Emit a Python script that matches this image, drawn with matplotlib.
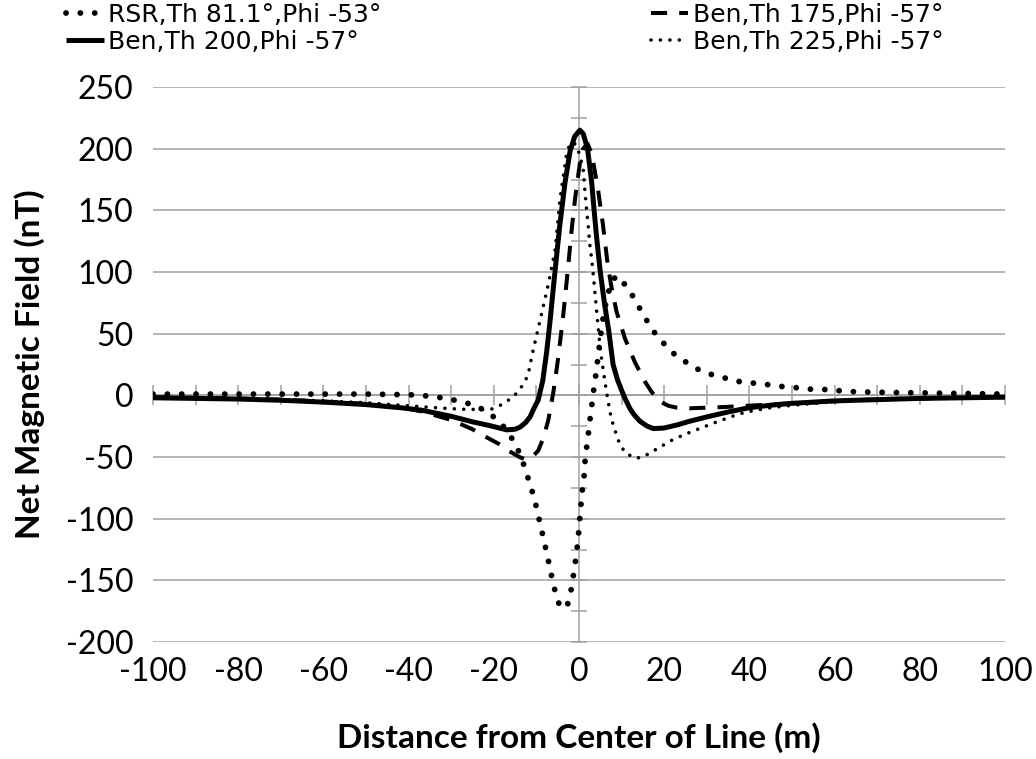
import matplotlib
matplotlib.use('Agg')
import matplotlib.pyplot as plt
from matplotlib.ticker import MultipleLocator

plt.rcParams['font.family'] = ['Lato', 'DejaVu Sans']
plt.rcParams['axes.unicode_minus'] = False

# ---------------- data ----------------
labels = ["RSR,Th 81.1°,Phi -53°", "Ben,Th 175,Phi -57°",
          "Ben,Th 200,Phi -57°", "Ben,Th 225,Phi -57°"]

rsr_x = [-100, -90, -80, -70, -60, -50, -40, -37.3, -34.2, -30.9, -27.7, -24.6, -21.7,
         -19.1, -17, -15.2, -13.8, -12.7, -11.7, -10.7, -9.9, -9.2, -8.4, -7.7, -7,
         -6.4, -5.6, -4.7, -3.7, -2.8, -2, -1.5, -1, -0.6, -0.2, 0.2, 0.5, 0.8, 1.2,
         1.4, 1.8, 2.2, 2.6, 3, 3.4, 4, 4.6, 5.2, 5.8, 6.5, 7.2, 8, 9, 10, 11.2, 12.9,
         14.5, 16.2, 18.1, 20.2, 22.5, 25.1, 28, 31, 34.3, 37.3, 40.7, 43.9, 47.2,
         50.3, 53.7, 57, 60.3, 63.6, 70, 80, 90, 100]
rsr_y = [1, 1, 1, 1, 1, 1, 0.5, 0, -1, -2.7, -5, -8, -13,
         -20, -28, -38, -48, -59, -70, -81, -92, -103, -115, -126, -137,
         -147, -159, -169, -173, -171, -161, -150, -139, -128, -116, -99, -87, -76, -65,
         -54, -42, -31, -19, -8, 3, 18, 35, 52, 66, 78, 87, 94, 97, 93, 88, 79,
         69, 59, 49, 41, 33, 27, 21, 17, 14, 11.3, 10, 8.9, 7.3,
         6.5, 5, 4.9, 4, 3, 2.5, 2, 1.5, 1]

b175_x = [-100, -90, -80, -70, -60, -50, -40, -37, -30, -25, -22.8, -19, -16.5, -14,
          -12.5, -11, -9.6, -8.4, -7.2, -6, -4.9, -3.7, -2.5, -1.7, -0.9, 0.2, 1, 2,
          3, 3.8, 4.5, 5.6, 6.6, 7.5, 8.8, 10.8, 13.1, 15.5, 17, 19, 21, 23, 26, 30,
          34, 42, 50, 57, 64, 72, 80, 90, 100]
b175_y = [-1.5, -2, -2.5, -3.5, -5, -7, -11, -13, -20, -27.5, -32, -39, -45, -50,
          -52, -50, -45, -35, -20, 3, 30, 65, 106, 135, 160, 188, 200, 204,
          196, 180, 166, 139, 110, 90, 68, 46, 27, 11, 3, -5, -8.5, -10, -10.5, -10,
          -9.5, -8, -6.5, -5.4, -4, -3, -2.5, -2, -1.5]

b200_x = [-100, -90, -80, -70, -60, -50, -42, -37, -30, -25, -21, -17, -15, -13.8,
          -12.5, -11.5, -10.5, -9.6, -8.5, -7.6, -6.8, -6, -5.2, -4.5, -3.3, -2.1, -1,
          0.2, 1, 2, 3, 3.5, 4, 4.5, 5, 6, 7, 8, 9, 10, 11, 12, 13, 14.3, 16, 17.5, 20,
          23, 26, 30, 35, 40, 45, 50, 60, 70, 80, 90, 100]
b200_y = [-2, -2.5, -3, -4, -5.5, -7.5, -10, -12, -17, -21.5, -24.5, -28, -27.5, -25.7,
          -22, -17.5, -10, -4, 12, 35, 60, 88, 115, 138, 172, 198, 210,
          215, 212, 200, 172, 152, 133, 116, 100, 74, 52, 25, 13, 4, -4, -11, -16, -21,
          -25, -27, -26.5, -24, -21, -17.5, -13.5, -10, -8, -6.5, -4.5, -3.5, -2.5, -2, -1.5]

b225_x = [-100, -90, -80, -70, -60, -50, -40, -36, -31.5, -27.5, -22.8, -20.9, -18.9,
          -17, -15.3, -13.8, -12.7, -11.9, -11, -10, -9, -8, -7.2, -6.4, -5.6, -5.1,
          -4.5, -3.7, -2.9, -2.1, -1.3, -0.5, 0.3, 1, 1.4, 1.8, 2.2, 2.6, 3, 3.4, 4.2,
          5, 5.7, 6.5, 7.3, 8.1, 9.6, 11, 13.3, 15, 17, 19, 22, 25.3, 29, 32.3, 36,
          39.3, 45, 50.3, 57, 64, 72, 80, 90, 100]
b225_y = [-1.5, -2, -2.5, -3.5, -4.5, -6, -8.5, -9.5, -10.5, -11.3, -11.5, -11.6, -9,
          -5, -0.8, 5.4, 11, 17.5, 33, 48, 63, 78, 90, 104, 118, 136,
          158, 177, 196, 204, 205, 202, 193, 183, 165, 150, 136, 120, 110, 96, 66,
          37, 20, 2, -14, -25, -40, -47, -51, -50, -46, -42, -36, -31, -26, -21.6, -17,
          -13.5, -10, -8, -6, -4, -3, -2.5, -2, -1.5]

x_ticklabels = list(range(-100, 101, 20))
y_ticklabels = list(range(-200, 251, 50))

# ---------------- figure ----------------
GRAY = '#a0a0a0'
fig = plt.figure(figsize=(10.36, 7.59), dpi=100)
ax = fig.add_axes([153 / 1036, 117 / 759, 852 / 1036, 555 / 759])

l_rsr, = ax.plot(rsr_x, rsr_y, color='black', lw=4.2, linestyle=(0, (0.01, 2.45)),
                 dash_capstyle='round', label=labels[0], zorder=3)
l_175, = ax.plot(b175_x, b175_y, color='black', lw=2.9, linestyle=(0, (4, 3)),
                 label=labels[1], zorder=3)
l_200, = ax.plot(b200_x, b200_y, color='black', lw=3.6, solid_capstyle='butt',
                 label=labels[2], zorder=3)
l_225, = ax.plot(b225_x, b225_y, color='black', lw=2.6, linestyle=(0, (0.01, 2.6)),
                 dash_capstyle='round', label=labels[3], zorder=3)

ax.set_xlim(-100, 100)
ax.set_ylim(-200, 250)

for s in ['top', 'right']:
    ax.spines[s].set_visible(False)
ax.spines['bottom'].set_position(('data', 0))
ax.spines['left'].set_position(('data', 0))
for s in ['bottom', 'left']:
    ax.spines[s].set_color(GRAY)
    ax.spines[s].set_linewidth(1.1)
    ax.spines[s].set_zorder(1)

ax.xaxis.set_major_locator(MultipleLocator(10))
ax.yaxis.set_major_locator(MultipleLocator(50))
ax.yaxis.set_minor_locator(MultipleLocator(25))
ax.tick_params(axis='x', which='both', direction='inout', length=15, width=1.1,
               color=GRAY, labelbottom=False)
ax.tick_params(axis='y', which='both', direction='inout', length=12, width=1.1,
               color=GRAY, labelleft=False)
ax.grid(axis='y', which='major', color=GRAY, lw=1.1, zorder=0)
ax.set_axisbelow(True)

# tick labels at the bottom / left edge
secx = ax.secondary_xaxis('bottom')
secx.set_xticks(x_ticklabels)
secx.tick_params(length=0, pad=11, labelsize=23)
secx.spines['bottom'].set_visible(False)
secy = ax.secondary_yaxis('left')
secy.set_yticks(y_ticklabels)
secy.tick_params(length=0, pad=14, labelsize=23)
secy.spines['left'].set_visible(False)

ax.set_xlabel('Distance from Center of Line (m)', fontsize=24, fontweight='bold',
              va='center')
ax.xaxis.set_label_coords(0.5, -0.173)
ax.set_ylabel('Net Magnetic Field (nT)', fontsize=24, fontweight='bold',
              va='center', rotation=90)
ax.yaxis.set_label_coords(-0.145, 0.5)

fig.legend(handles=[l_rsr, l_200, l_175, l_225], ncol=2, loc='upper left',
           bbox_to_anchor=(66 / 1036, 1 - 3 / 759), frameon=False,
           prop={'family': ['DejaVu Sans'], 'size': 18},
           handlelength=1.5, handletextpad=0.2, columnspacing=10.75,
           labelspacing=0.1, borderpad=0, borderaxespad=0)

fig.savefig('out.png', dpi=100)
